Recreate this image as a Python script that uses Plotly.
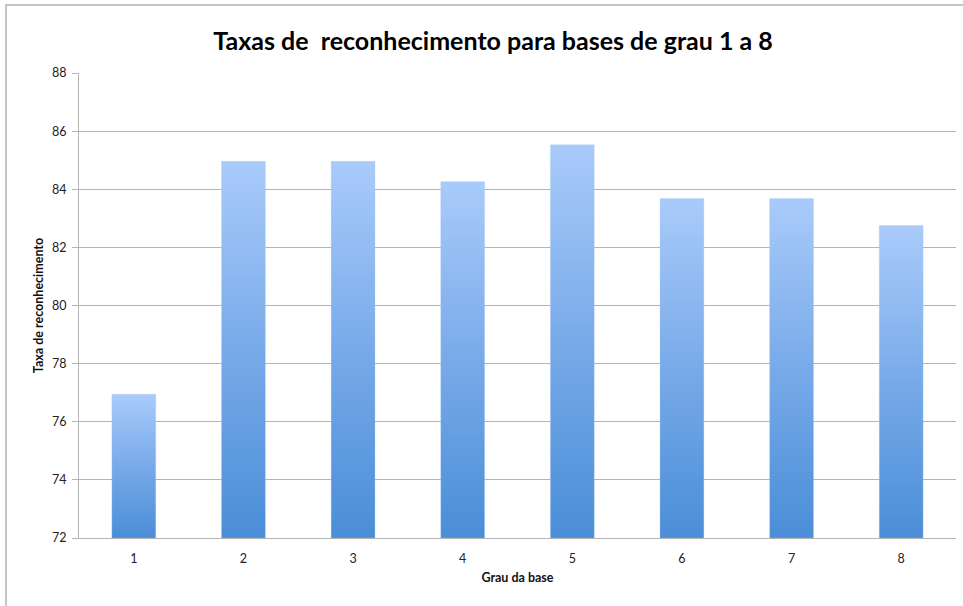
import plotly.graph_objects as go

categories = [1, 2, 3, 4, 5, 6, 7, 8]
values = [76.95, 84.96, 84.96, 84.26, 85.53, 83.68, 83.68, 82.75]
y_ticks = [72, 74, 76, 78, 80, 82, 84, 86, 88]

title = "Taxas de  reconhecimento para bases de grau 1 a 8"
x_title = "Grau da base"
y_title = "Taxa de reconhecimento"

FONT = "Lato, 'Open Sans', sans-serif"
BASE = y_ticks[0]
HALF = 0.2

fig = go.Figure()
for c, v in zip(categories, values):
    fig.add_trace(go.Scatter(
        x=[c - HALF, c - HALF, c + HALF, c + HALF, c - HALF],
        y=[BASE, v, v, BASE, BASE],
        mode="lines",
        line=dict(width=0.6, color="rgba(170,200,240,0.5)"),
        fill="toself",
        fillgradient=dict(
            type="vertical",
            colorscale=[[0, "#4a8ed7"], [0.5, "#78aae9"], [1, "#a9cbfa"]],
        ),
        name=str(c),
        hovertemplate="%{fullData.name}: " + f"{v}" + "<extra></extra>",
        showlegend=False,
    ))

fig.update_layout(
    width=963, height=606,
    margin=dict(l=79, r=7, t=73, b=68),
    paper_bgcolor="white", plot_bgcolor="white",
    title=dict(text=f"<b>{title}</b>", x=0.512, xanchor="center", y=0.932, yanchor="middle",
               font=dict(family=FONT, size=25, color="black")),
    font=dict(family=FONT, size=12, color="#222"),
    xaxis=dict(
        range=[0.5, 8.5], tickmode="array", tickvals=categories,
        ticktext=[str(c) for c in categories],
        showgrid=False, showline=True, linecolor="#b5b5b5", linewidth=1,
        ticks="outside", ticklen=9, tickcolor="rgba(0,0,0,0)", zeroline=False,
        title=dict(text=f"<b>{x_title}</b>", font=dict(size=12.5, color="#111"), standoff=8),
        tickfont=dict(size=12.5, color="#222"),
    ),
    yaxis=dict(
        range=[72, 88], tickmode="array", tickvals=y_ticks,
        showgrid=True, gridcolor="#b4b4b4", gridwidth=1,
        showline=True, linecolor="#b5b5b5", linewidth=1,
        ticks="outside", ticklen=6, tickcolor="#b5b5b5",
        zeroline=False, ticklabelstandoff=3,
        title=dict(text=f"<b>{y_title}</b>", font=dict(size=12.5, color="#111"), standoff=5),
        tickfont=dict(size=12.5, color="#222"),
    ),
    shapes=[dict(type="rect", xref="paper", yref="paper",
                 x0=-0.0832, x1=1.2, y0=-0.3, y1=1.146,
                 line=dict(color="#c4c4c4", width=2), fillcolor="rgba(0,0,0,0)", layer="below")],
)

fig.write_html("out.html")
